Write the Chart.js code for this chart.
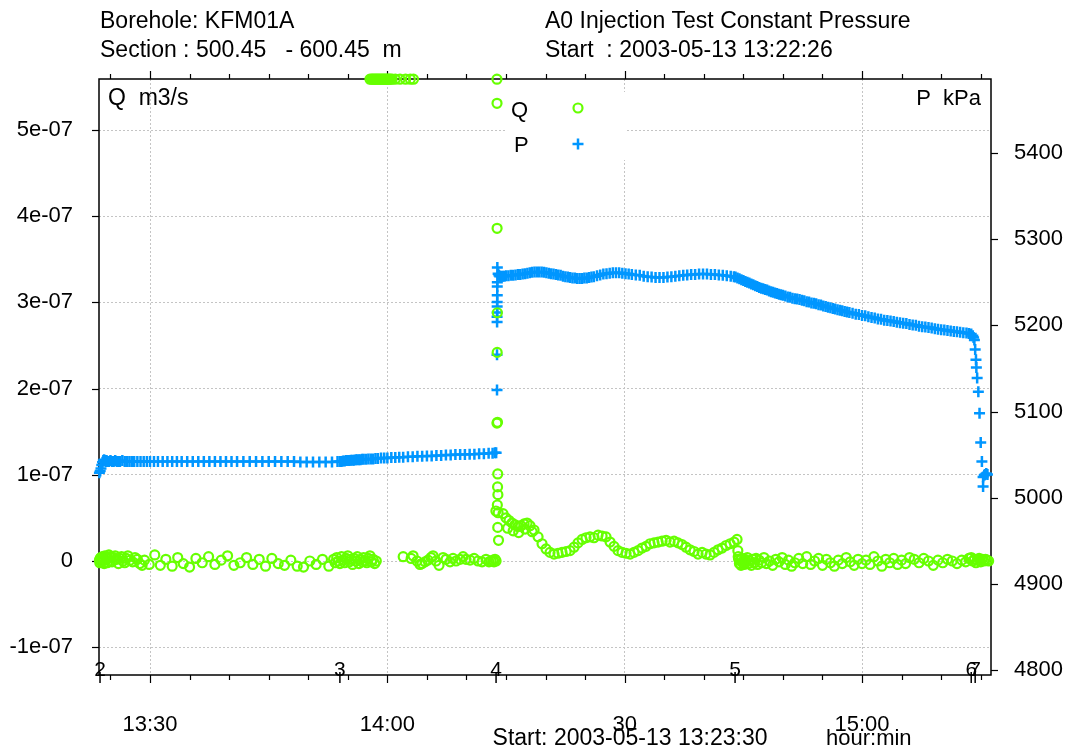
<!DOCTYPE html>
<html>
<head>
<meta charset="utf-8">
<script src="https://cdn.jsdelivr.net/npm/chart.js@4/dist/chart.umd.min.js"></script>
<style>
  html, body { margin: 0; padding: 0; background: #fff; }
  #wrap { width: 1069px; height: 749px; }
</style>
</head>
<body>
<div id="wrap"><canvas id="c"></canvas></div>
<script>
// time axis: minutes after 13:00
const xTickMin = [30, 60, 90, 120];
const xTickText = ['13:30', '14:00', '30', '15:00'];
const qTicks = [-1, 0, 1, 2, 3, 4, 5];          // Q in 1e-07 m3/s
const pTicks = [4800, 4900, 5000, 5100, 5200, 5300, 5400];

// test phase markers along the bottom axis
const phaseMin = [23.68, 54.0, 73.74, 103.95, 133.8, 134.3];
const phaseLabel = ['2', '3', '4', '5', '6', '7'];

// P, kPa
const pMin = [
  23.6, 23.7, 23.8, 23.9, 24.0, 24.1, 24.2, 24.3, 24.4, 24.5,
  24.6, 24.8, 25.0, 25.2, 25.4, 25.6, 25.8, 26.0, 26.2, 26.5,
  26.8, 27.1, 27.4, 27.7, 28.0, 28.4, 28.8, 29.2, 29.6, 30.0,
  30.5, 31.0, 31.6, 32.2, 32.8, 33.4, 34.0, 34.7, 35.4, 36.1,
  36.8, 37.5, 38.2, 38.9, 39.6, 40.3, 41.0, 41.8, 42.6, 43.4,
  44.2, 45.0, 45.8, 46.6, 47.4, 48.2, 49.0, 49.8, 50.6, 51.4,
  52.2, 53.0, 53.7, 54.0, 54.2, 54.4, 54.6, 54.8, 55.0, 55.2,
  55.4, 55.6, 55.8, 56.0, 56.2, 56.4, 56.6, 56.8, 57.0, 57.3,
  57.6, 57.9, 58.2, 58.5, 58.8, 59.2, 59.6, 60.0, 60.5, 61.0,
  61.5, 62.0, 62.6, 63.2, 63.8, 64.4, 65.0, 65.6, 66.2, 66.8,
  67.4, 68.0, 68.6, 69.2, 69.8, 70.4, 71.0, 71.6, 72.2, 72.8,
  73.3, 73.6, 73.75, 73.86, 73.86, 73.87, 73.87, 73.88, 73.88, 73.88,
  73.89, 73.89, 73.9, 73.9, 74.0, 74.1, 74.2, 74.4, 74.6, 74.8,
  75.0, 75.3, 75.6, 75.9, 76.2, 76.5, 76.8, 77.1, 77.4, 77.7,
  78.0, 78.3, 78.6, 78.9, 79.2, 79.5, 79.8, 80.1, 80.4, 80.7,
  81.0, 81.3, 81.6, 81.9, 82.2, 82.5, 82.8, 83.1, 83.4, 83.7,
  84.0, 84.3, 84.6, 84.9, 85.2, 85.5, 85.8, 86.1, 86.5, 86.9,
  87.3, 87.7, 88.1, 88.5, 88.9, 89.3, 89.7, 90.1, 90.5, 90.9,
  91.4, 91.9, 92.4, 92.9, 93.4, 93.9, 94.4, 94.9, 95.4, 95.9,
  96.4, 96.9, 97.4, 97.9, 98.4, 98.9, 99.4, 99.9, 100.4, 100.9,
  101.4, 101.9, 102.4, 102.9, 103.4, 103.8, 104.0, 104.25, 104.5, 104.75,
  105.0, 105.25, 105.5, 105.75, 106.0, 106.25, 106.5, 106.75, 107.0, 107.25,
  107.5, 107.75, 108.0, 108.25, 108.5, 108.75, 109.0, 109.25, 109.5, 109.75,
  110.0, 110.3, 110.6, 110.9, 111.2, 111.5, 111.8, 112.1, 112.4, 112.7,
  113.0, 113.3, 113.6, 113.9, 114.2, 114.5, 114.8, 115.1, 115.4, 115.7,
  116.0, 116.3, 116.6, 116.9, 117.2, 117.5, 117.8, 118.1, 118.4, 118.8,
  119.2, 119.6, 120.0, 120.4, 120.8, 121.2, 121.6, 122.0, 122.4, 122.8,
  123.2, 123.6, 124.0, 124.4, 124.8, 125.2, 125.6, 126.0, 126.4, 126.8,
  127.2, 127.6, 128.0, 128.4, 128.8, 129.2, 129.6, 130.0, 130.4, 130.8,
  131.2, 131.6, 132.0, 132.4, 132.8, 133.2, 133.5, 133.8, 134.0, 134.1,
  134.2, 134.3, 134.4, 134.45, 134.55, 134.7, 134.85, 135.0, 135.15, 135.3,
  135.3, 135.45, 135.55, 135.7, 135.85
];
const pKpa = [
  5029, 5031, 5034, 5038, 5041, 5043, 5044, 5043, 5042, 5043,
  5042, 5042, 5043, 5042, 5042, 5043, 5042, 5042, 5042, 5043,
  5042, 5042, 5042, 5042, 5042, 5042, 5042, 5042, 5042, 5042,
  5042, 5042, 5042, 5042, 5042, 5042, 5042, 5042, 5042, 5042,
  5042, 5042, 5042, 5042, 5042, 5042, 5042, 5042, 5042, 5042,
  5042, 5042, 5042, 5042, 5042, 5042, 5041.5, 5041.5, 5041.5, 5041.5,
  5041.5, 5041.5, 5042, 5042, 5042, 5042.5, 5042.5, 5043, 5043, 5043,
  5043.5, 5043.5, 5043.5, 5044, 5044, 5044, 5044, 5044.5, 5044.5, 5044.5,
  5045, 5045, 5045, 5045.5, 5045.5, 5046, 5046, 5046, 5046.5, 5046.5,
  5047, 5047, 5047.5, 5047.5, 5048, 5048, 5048.5, 5048.5, 5049, 5049,
  5049.5, 5049.5, 5050, 5050, 5050, 5050.5, 5050.5, 5051, 5051, 5051.5,
  5051.5, 5052, 5052, 5125, 5166, 5204, 5210, 5215, 5222, 5227,
  5235, 5245, 5250, 5267, 5260, 5258, 5257, 5257, 5257, 5257,
  5257.5, 5257.5, 5258, 5258, 5258.5, 5259, 5259, 5259.5, 5260, 5260.5,
  5261, 5261.5, 5262, 5262, 5262, 5262, 5261.5, 5261, 5260.5, 5260,
  5259.5, 5259, 5258.5, 5258, 5257, 5256.5, 5256, 5255.5, 5255, 5255,
  5254.5, 5254.5, 5254.5, 5255, 5255, 5255.5, 5256, 5256.5, 5257.5, 5258.5,
  5259.5, 5260, 5260.5, 5261, 5261, 5261, 5260.5, 5260, 5259.5, 5259,
  5258.5, 5258, 5257, 5256.5, 5256, 5255.5, 5255.5, 5255.5, 5256, 5256.5,
  5257, 5257.5, 5258, 5258.5, 5259, 5259, 5259.5, 5259.5, 5259.5, 5259,
  5259, 5258.5, 5258, 5257.5, 5257, 5256.5, 5256, 5255, 5254, 5253,
  5252, 5251, 5250, 5249, 5248, 5247, 5246, 5245, 5244, 5243,
  5242.5, 5241.5, 5241, 5240, 5239, 5238.5, 5237.5, 5237, 5236, 5235.5,
  5235, 5234, 5233, 5232.5, 5231.5, 5231, 5230.5, 5230, 5229, 5228.5,
  5227.5, 5227, 5226, 5225.5, 5225, 5224, 5223.5, 5222.5, 5222, 5221,
  5220.5, 5219.5, 5219, 5218, 5217.5, 5217, 5216, 5215.5, 5215, 5214,
  5213, 5212.5, 5211.5, 5211, 5210, 5209, 5208.5, 5207.5, 5207, 5206,
  5205.5, 5205, 5204.5, 5203.5, 5203, 5202.5, 5202, 5201, 5200.5, 5200,
  5199, 5198.5, 5198, 5197.5, 5197, 5196, 5195.5, 5195, 5194.5, 5194,
  5193.5, 5193, 5192.5, 5192, 5191.5, 5191, 5190.5, 5190, 5188, 5186,
  5183, 5172, 5160, 5151, 5139, 5123, 5098, 5064, 5042, 5024,
  5013, 5026, 5027, 5028, 5027
];

// Q, 1e-07 m3/s (5.59 = off scale, drawn on the top edge)
const qMin = [
  23.6, 23.65, 23.7, 23.75, 23.8, 23.9, 24.0, 24.1, 24.2, 24.3,
  24.4, 24.5, 24.6, 24.7, 24.8, 24.9, 25.0, 25.2, 25.4, 25.6,
  25.8, 26.0, 26.2, 26.4, 26.6, 26.8, 27.0, 27.2, 27.5, 27.8,
  28.1, 28.4, 28.7, 29.0, 29.3, 29.9, 30.6, 31.3, 32.0, 32.8,
  33.5, 34.2, 35.0, 35.8, 36.6, 37.4, 38.2, 39.0, 39.8, 40.6,
  41.4, 42.2, 43.0, 43.8, 44.6, 45.4, 46.2, 47.0, 47.8, 48.6,
  49.4, 50.2, 51.0, 51.8, 52.6, 53.2, 53.4, 53.6, 53.8, 54.0,
  54.2, 54.4, 54.6, 54.8, 55.0, 55.2, 55.4, 55.6, 55.8, 56.0,
  56.2, 56.4, 56.6, 56.8, 57.0, 57.2, 57.4, 57.6, 57.8, 58.0,
  58.2, 58.4, 58.6, 57.8, 58.0, 58.15, 58.3, 58.45, 58.6, 58.75,
  58.9, 59.05, 59.2, 59.35, 59.5, 59.65, 59.8, 59.95, 60.1, 60.25,
  60.4, 60.6, 61.0, 61.6, 62.3, 62.9, 63.3, 62.0, 63.0, 63.25,
  63.75, 64.13, 64.38, 64.76, 65.14, 65.52, 65.77, 66.15, 66.53, 67.04,
  67.42, 67.92, 68.3, 68.68, 69.19, 69.57, 69.94, 70.45, 70.96, 71.46,
  71.97, 72.47, 72.85, 73.1, 73.36, 73.48, 73.61, 73.74, 73.85, 73.86,
  73.87, 73.9, 73.88, 73.85, 73.92, 73.95, 73.93, 73.97, 73.72, 73.9,
  74.0, 73.95, 74.05, 74.62, 75.0, 75.38, 75.76, 76.14, 76.52, 76.9,
  77.28, 77.66, 78.03, 78.54, 79.05, 79.55, 80.06, 80.56, 81.07, 81.57,
  82.08, 82.59, 83.09, 83.6, 84.1, 84.61, 85.11, 85.62, 86.12, 86.63,
  87.14, 87.64, 88.15, 88.65, 89.16, 89.66, 90.17, 90.68, 91.18, 91.69,
  92.19, 92.7, 93.2, 93.71, 94.22, 94.72, 95.23, 95.73, 96.24, 96.74,
  97.25, 97.75, 98.26, 98.77, 99.27, 99.78, 100.28, 100.79, 101.29, 101.8,
  102.3, 102.81, 103.32, 103.82, 104.2, 75.2, 75.9, 76.6, 77.4, 78.3,
  104.3, 104.35, 104.4, 104.5, 104.6, 104.7, 104.8, 104.9, 105.0, 105.1,
  105.2, 105.35, 105.5, 105.65, 105.8, 106.0, 106.2, 106.4, 106.6, 106.8,
  107.0, 107.3, 107.6, 107.9, 108.3, 108.7, 109.1, 109.5, 109.9, 110.3,
  110.7, 111.1, 111.5, 112.0, 112.5, 113.0, 113.5, 114.0, 114.5, 115.0,
  115.5, 116.0, 116.5, 117.0, 117.5, 118.0, 118.5, 119.0, 119.5, 120.0,
  120.5, 121.0, 121.5, 122.0, 122.5, 123.0, 123.5, 124.0, 124.5, 125.0,
  125.5, 126.0, 126.6, 127.2, 127.8, 128.4, 129.0, 129.6, 130.2, 130.8,
  131.4, 132.0, 132.6, 133.1, 133.5, 133.8, 134.0, 134.2, 134.4, 134.6,
  134.8, 135.0, 135.2, 135.4, 135.6, 135.8, 136.0
];
const qVal = [
  0.01, -0.02, 0.03, 0.0, 0.04, -0.01, 0.05, 0.02, -0.03, 0.06,
  0.01, 0.04, -0.02, 0.03, 0.07, 0.0, 0.05, -0.01, 0.04, 0.06,
  0.02, -0.03, 0.03, 0.05, 0.0, -0.02, 0.03, 0.06, 0.01, -0.01,
  0.04, 0.02, -0.03, -0.05, 0.01, -0.04, 0.07, -0.05, 0.02, -0.06,
  0.04, -0.03, -0.07, 0.03, -0.02, 0.05, -0.04, 0.01, 0.06, -0.05,
  -0.02, 0.04, -0.04, 0.02, -0.06, 0.03, -0.03, -0.05, 0.01, -0.06,
  -0.07, 0.0, -0.04, 0.02, -0.06, 0.02, -0.02, 0.04, 0.0, -0.03,
  0.05, 0.01, -0.02, 0.03, 0.06, -0.01, 0.02, -0.04, 0.03, 0.0,
  0.05, -0.03, 0.02, -0.01, 0.04, 0.0, -0.02, 0.03, 0.06, -0.01,
  0.02, -0.03, 0.0, 5.59, 5.59, 5.59, 5.59, 5.59, 5.59, 5.59,
  5.59, 5.59, 5.59, 5.59, 5.59, 5.59, 5.59, 5.59, 5.59, 5.59,
  5.59, 5.59, 5.59, 5.59, 5.59, 5.59, 5.59, 0.05, 0.03, 0.06,
  0.0, -0.04, -0.03, -0.01, 0.01, 0.04, 0.06, 0.0, -0.05, 0.04,
  0.02, -0.01, 0.03, 0.0, 0.02, 0.05, 0.02, 0.01, 0.03, 0.0,
  -0.01, 0.02, -0.01, 0.0, 0.01, -0.01, 0.02, 0.0, 5.59, 5.31,
  3.86, 2.88, 2.42, 1.60, 1.61, 1.01, 0.86, 0.77, 0.58, 0.65,
  0.56, 0.39, 0.24, 0.55, 0.50, 0.47, 0.44, 0.42, 0.40, 0.41,
  0.43, 0.44, 0.41, 0.36, 0.28, 0.20, 0.14, 0.10, 0.08, 0.09,
  0.10, 0.11, 0.12, 0.16, 0.21, 0.25, 0.27, 0.28, 0.27, 0.30,
  0.29, 0.28, 0.22, 0.17, 0.12, 0.10, 0.09, 0.08, 0.10, 0.12,
  0.15, 0.17, 0.20, 0.21, 0.22, 0.23, 0.24, 0.22, 0.23, 0.21,
  0.19, 0.16, 0.13, 0.11, 0.08, 0.10, 0.08, 0.07, 0.10, 0.13,
  0.15, 0.18, 0.20, 0.22, 0.25, 0.38, 0.35, 0.33, 0.37, 0.34,
  0.12, 0.05, 0.02, -0.03, 0.01, -0.05, 0.03, -0.02, 0.0, -0.04,
  0.02, -0.01, 0.04, -0.03, 0.0, -0.05, 0.02, -0.02, 0.03, -0.04,
  0.01, -0.02, 0.04, -0.03, 0.0, -0.05, 0.02, -0.01, 0.04, -0.04,
  0.01, -0.06, -0.02, 0.03, -0.03, 0.05, -0.04, 0.0, 0.03, -0.05,
  0.02, -0.02, -0.06, 0.01, -0.03, 0.04, -0.01, -0.05, 0.02, -0.03,
  0.01, -0.04, 0.05, 0.0, -0.06, 0.02, -0.02, 0.03, -0.04, 0.01,
  -0.03, 0.04, 0.02, -0.02, 0.03, 0.0, -0.05, 0.01, -0.02, 0.02,
  0.0, -0.03, 0.01, -0.01, 0.03, 0.04, 0.0, 0.02, -0.02, 0.01,
  0.03, -0.01, 0.02, 0.0, 0.02, 0.01, 0.0
];

if (pMin.length !== pKpa.length) throw new Error('P arrays: ' + pMin.length + ' vs ' + pKpa.length);
if (qMin.length !== qVal.length) throw new Error('Q arrays: ' + qMin.length + ' vs ' + qVal.length);

const GREEN = '#66ff00';
const BLUE = '#0096ff';
const FONT = '"Liberation Sans", Arial, sans-serif';

Chart.defaults.font.family = FONT;
Chart.defaults.font.size = 22;
Chart.defaults.color = '#000';

function line(ctx, x1, y1, x2, y2) {
    ctx.beginPath();
    ctx.moveTo(x1, y1);
    ctx.lineTo(x2, y2);
    ctx.stroke();
}

// frame, tick marks, phase numbers, legend and header texts
const decorations = {
    id: 'decorations',
    beforeDatasetsDraw(chart) {
        const { ctx, chartArea: a, scales } = chart;
        const x = scales.x, yq = scales.y, yp = scales.y2;
        ctx.save();
        ctx.strokeStyle = '#000';
        ctx.lineWidth = 1.5;
        ctx.strokeRect(a.left, a.top, a.right - a.left, a.bottom - a.top);

        ctx.lineWidth = 1.2;
        for (let m = 25; m <= x.max; m += 5) {
            const px = Math.round(x.getPixelForValue(m)) + 0.5;
            const len = m % 30 === 0 ? 8 : 5;
            line(ctx, px, a.bottom, px, a.bottom + len);
            line(ctx, px, a.top, px, a.top - len);
        }
        qTicks.forEach(v => {
            const py = Math.round(yq.getPixelForValue(v)) + 0.5;
            line(ctx, a.left - 7, py, a.left, py);
        });
        pTicks.forEach(v => {
            const py = Math.round(yp.getPixelForValue(v)) + 0.5;
            line(ctx, a.right, py, a.right + 7, py);
        });

        // phase markers
        ctx.lineWidth = 1.5;
        ctx.font = '21px ' + FONT;
        ctx.fillStyle = '#000';
        ctx.textAlign = 'center';
        ctx.textBaseline = 'alphabetic';
        phaseMin.forEach((m, i) => {
            const px = x.getPixelForValue(m);
            line(ctx, px, a.bottom - 3, px, a.bottom + 8);
            ctx.fillText(phaseLabel[i], px, a.bottom + 1);
        });

        // axis unit labels inside the plot
        ctx.font = '23px ' + FONT;
        ctx.textAlign = 'left';
        ctx.fillText('Q  m3/s', a.left + 9, a.top + 26);
        ctx.font = '22px ' + FONT;
        ctx.textAlign = 'right';
        ctx.fillText('P  kPa', a.right - 10, a.top + 26);
        ctx.restore();
    },
    afterDatasetsDraw(chart) {
        const ctx = chart.ctx;
        ctx.save();
        ctx.fillStyle = '#fff';
        ctx.fillRect(506, 92, 121, 68);
        ctx.fillStyle = '#000';
        ctx.font = '22px ' + FONT;
        ctx.textAlign = 'left';
        ctx.textBaseline = 'alphabetic';
        ctx.fillText('Q', 511, 117);
        ctx.fillText('P', 514, 152);
        ctx.fillStyle = 'rgba(0,0,0,0)';
        ctx.strokeStyle = GREEN;
        ctx.lineWidth = 2.2;
        Chart.helpers.drawPoint(ctx, { pointStyle: 'circle', radius: 4.5, borderWidth: 2.2, rotation: 0 }, 578, 108);
        ctx.strokeStyle = BLUE;
        ctx.lineWidth = 2.5;
        Chart.helpers.drawPoint(ctx, { pointStyle: 'cross', radius: 5.5, borderWidth: 2.5, rotation: 0 }, 578, 144);
        ctx.restore();
    },
    afterDraw(chart) {
        const ctx = chart.ctx;
        ctx.save();
        ctx.fillStyle = '#000';
        ctx.font = '23px ' + FONT;
        ctx.textAlign = 'left';
        ctx.textBaseline = 'alphabetic';
        ctx.fillText('Borehole: KFM01A', 100, 28);
        ctx.fillText('Section : 500.45   - 600.45  m', 100, 57);
        ctx.fillText('A0 Injection Test Constant Pressure', 545, 28);
        ctx.fillText('Start  : 2003-05-13 13:22:26', 545, 57);
        ctx.textAlign = 'center';
        ctx.fillText('Start: 2003-05-13 13:23:30', 630, 745);
        ctx.font = '22px ' + FONT;
        ctx.textAlign = 'left';
        ctx.fillText('hour:min', 826, 745);
        ctx.restore();
    }
};

new Chart(document.getElementById('c'), {
    type: 'scatter',
    data: {
        datasets: [
            {
                label: 'Q',
                data: qMin.map((t, i) => ({ x: t, y: qVal[i] })),
                yAxisID: 'y',
                showLine: false,
                pointStyle: 'circle',
                pointRadius: 4.5,
                pointBorderWidth: 2.2,
                pointBorderColor: GREEN,
                pointBackgroundColor: 'rgba(0,0,0,0)',
                clip: false
            },
            {
                label: 'P',
                data: pMin.map((t, i) => ({ x: t, y: pKpa[i] })),
                yAxisID: 'y2',
                showLine: false,
                pointStyle: 'cross',
                pointRadius: 5.5,
                pointBorderWidth: 2.5,
                pointBorderColor: BLUE,
                clip: false
            }
        ]
    },
    options: {
        responsive: true,
        maintainAspectRatio: false,
        devicePixelRatio: 1,
        animation: false,
        layout: { padding: { top: 79, left: 0, right: 0, bottom: 0 } },
        plugins: { legend: { display: false }, tooltip: { enabled: false } },
        scales: {
            x: {
                type: 'linear',
                position: 'bottom',
                min: 23.55,
                max: 136.3,
                afterBuildTicks: s => { s.ticks = xTickMin.map(v => ({ value: v })); },
                afterFit: s => { s.height = 74; },
                ticks: {
                    padding: 37,
                    maxRotation: 0,
                    autoSkip: false,
                    callback: v => xTickText[xTickMin.indexOf(v)]
                },
                grid: { color: '#c4c4c4', lineWidth: 1, drawTicks: false },
                border: { display: false, dash: [2, 2] }
            },
            y: {
                type: 'linear',
                position: 'left',
                min: -1.3225,
                max: 5.592,
                afterBuildTicks: s => { s.ticks = qTicks.map(v => ({ value: v })); },
                afterFit: s => { s.width = 99; },
                ticks: {
                    padding: 26,
                    callback: v => (v === 0 ? '0' : v + 'e-07')
                },
                grid: { color: '#c4c4c4', lineWidth: 1, drawTicks: false },
                border: { display: false, dash: [2, 2] }
            },
            y2: {
                type: 'linear',
                position: 'right',
                min: 4794.2,
                max: 5485.9,
                afterBuildTicks: s => { s.ticks = pTicks.map(v => ({ value: v })); },
                afterFit: s => { s.width = 78; },
                ticks: { padding: 23, callback: v => String(v) },
                grid: { display: false, drawTicks: false },
                border: { display: false }
            }
        }
    },
    plugins: [decorations]
});
</script>
</body>
</html>
